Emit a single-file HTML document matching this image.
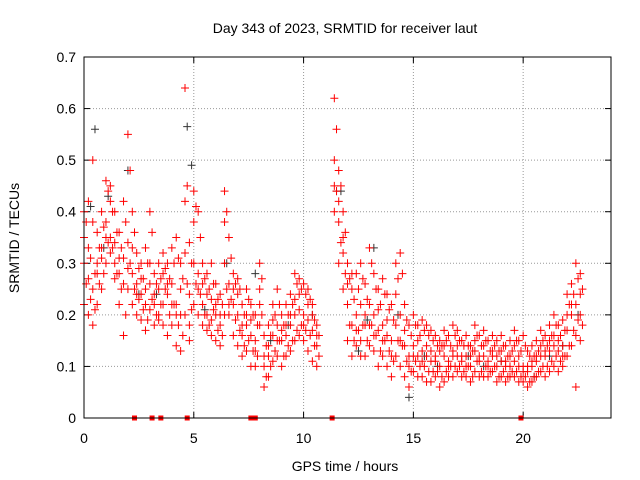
<!DOCTYPE html>
<html><head><meta charset="utf-8"><style>
html,body{margin:0;padding:0;background:#fff}
svg{display:block;font-family:"Liberation Sans",sans-serif}
</style></head><body>
<svg id="chart" width="640" height="480" viewBox="0 0 640 480" xmlns="http://www.w3.org/2000/svg">
<rect x="0" y="0" width="640" height="480" fill="#fff"/>
<text x="345" y="33" font-size="14" text-anchor="middle">Day 343 of 2023, SRMTID for receiver laut</text>
<text transform="translate(19,238) rotate(-90)" font-size="14" text-anchor="middle">SRMTID / TECUs</text>
<text x="345" y="471" font-size="14" text-anchor="middle">GPS time / hours</text>
<g id="grid"></g>
<g id="axes"></g>
<g id="marks"></g>
<rect x="84" y="57" width="527" height="361" fill="none" stroke="#000" stroke-width="1"/>
</svg>
<script>
const xTicks=[0,5,10,15,20];
const yTicks=[0,0.1,0.2,0.3,0.4,0.5,0.6,0.7];
const times=[0,0.2,0.4,0.6,0.8,1.0,1.2,1.4,1.6,1.8,2.0,2.2,2.4,2.6,2.8,3.0,3.2,3.4,3.6,3.8,4.0,4.2,4.4,4.6,4.8,5.0,5.2,5.4,5.6,5.8,6.0,6.2,6.4,6.6,6.8,7.0,7.2,7.4,7.6,7.8,8.0,8.2,8.4,8.6,8.8,9.0,9.2,9.4,9.6,9.8,10.0,10.2,10.4,10.6,11.4,11.6,11.8,12.0,12.2,12.4,12.6,12.8,13.0,13.2,13.4,13.6,13.8,14.0,14.2,14.4,14.6,14.8,15.0,15.2,15.4,15.6,15.8,16.0,16.2,16.4,16.6,16.8,17.0,17.2,17.4,17.6,17.8,18.0,18.2,18.4,18.6,18.8,19.0,19.2,19.4,19.6,19.8,20.0,20.2,20.4,20.6,20.8,21.0,21.2,21.4,21.6,21.8,22.0,22.2,22.4,22.6];
const seriesA=[.40,.42,.38,.36,.40,.46,.45,.40,.36,.42,.55,.40,.32,.30,.33,.40,.28,.30,.32,.30,.33,.35,.30,.64,.34,.44,.40,.30,.28,.30,.26,.24,.44,.35,.28,.27,.22,.25,.22,.20,.30,.16,.18,.22,.25,.20,.22,.24,.28,.27,.26,.25,.22,.18,.62,.48,.40,.30,.25,.28,.30,.26,.33,.28,.25,.27,.24,.22,.30,.32,.22,.18,.20,.18,.19,.18,.17,.16,.15,.17,.16,.18,.17,.15,.16,.14,.18,.16,.17,.15,.16,.15,.16,.14,.15,.17,.15,.16,.13,.14,.15,.17,.16,.18,.20,.18,.19,.24,.26,.30,.28];
const seriesB=[.30,.27,.25,.30,.33,.38,.35,.30,.28,.31,.34,.28,.26,.24,.22,.26,.22,.25,.28,.24,.26,.22,.20,.32,.24,.30,.28,.22,.20,.23,.20,.18,.30,.26,.22,.20,.16,.18,.16,.15,.22,.10,.12,.16,.18,.15,.16,.18,.20,.21,.20,.19,.17,.14,.50,.38,.32,.22,.18,.20,.22,.18,.22,.20,.17,.18,.16,.15,.18,.20,.14,.12,.14,.12,.13,.12,.11,.11,.10,.12,.11,.12,.12,.11,.12,.10,.13,.11,.12,.11,.12,.10,.11,.10,.10,.11,.10,.10,.09,.10,.11,.12,.12,.13,.14,.13,.14,.17,.20,.22,.20];
const seriesC=[.22,.20,.18,.22,.25,.30,.32,.27,.22,.16,.25,.22,.20,.19,.17,.21,.18,.19,.22,.16,.18,.14,.13,.20,.18,.22,.20,.18,.17,.19,.15,.14,.20,.20,.16,.14,.12,.13,.10,.10,.18,.06,.08,.11,.12,.10,.12,.13,.15,.16,.15,.13,.11,.10,.40,.30,.25,.15,.12,.14,.15,.12,.14,.13,.10,.12,.10,.08,.12,.10,.08,.06,.09,.08,.08,.07,.07,.08,.06,.07,.08,.08,.09,.08,.08,.07,.09,.08,.08,.08,.09,.07,.08,.07,.08,.08,.07,.07,.06,.07,.08,.09,.08,.09,.10,.09,.10,.12,.14,.16,.15];
const seriesD=[.35,.33,.50,.28,.31,.35,.42,.34,.31,.26,.29,.33,.24,.27,.25,.30,.24,.20,.18,.26,.22,.20,.25,.42,.15,.38,.25,.26,.24,.16,.22,.20,.38,.22,.25,.24,.18,.20,.19,.13,.25,.12,.14,.19,.15,.17,.18,.20,.23,.24,.18,.22,.20,.16,.45,.42,.35,.26,.28,.17,.12,.20,.18,.16,.21,.15,.19,.12,.24,.15,.17,.10,.12,.15,.11,.14,.13,.12,.13,.14,.10,.13,.14,.12,.10,.12,.15,.12,.14,.10,.13,.12,.13,.11,.12,.14,.12,.09,.10,.11,.12,.14,.13,.15,.16,.15,.12,.20,.22,.06,.24];
const seriesE=[.38,.31,.28,.33,.37,.44,.40,.36,.33,.38,.48,.36,.29,.27,.30,.36,.26,.27,.29,.27,.30,.31,.27,.45,.30,.41,.35,.27,.25,.26,.23,.22,.40,.31,.26,.25,.20,.23,.20,.18,.27,.14,.16,.20,.22,.18,.20,.22,.26,.25,.24,.23,.19,.16,.56,.45,.36,.27,.23,.25,.27,.23,.30,.25,.22,.24,.21,.19,.27,.28,.19,.16,.18,.16,.17,.16,.15,.14,.14,.15,.14,.16,.15,.14,.14,.13,.16,.14,.15,.13,.14,.13,.14,.12,.13,.15,.13,.14,.12,.12,.13,.15,.14,.16,.18,.16,.17,.22,.24,.27,.25];
const seriesF=[.26,.23,.21,.26,.28,.34,.33,.28,.25,.20,.30,.25,.23,.21,.19,.23,.20,.22,.25,.20,.22,.18,.16,.26,.21,.26,.24,.20,.18,.21,.17,.16,.25,.23,.19,.17,.14,.15,.13,.12,.20,.08,.10,.13,.15,.12,.14,.15,.17,.18,.17,.16,.14,.12,.44,.34,.28,.18,.15,.17,.18,.15,.18,.16,.13,.15,.13,.11,.15,.14,.11,.09,.11,.10,.10,.09,.09,.09,.08,.09,.10,.10,.10,.09,.10,.08,.11,.09,.10,.09,.10,.08,.09,.08,.09,.09,.08,.08,.07,.08,.09,.10,.10,.11,.12,.11,.12,.14,.17,.19,.18];
const darkTimes=[0.3,0.5,1.1,2.0,2.5,4.7,4.9,6.5,7.8,10.4,11.5,11.7,12.5,13.2,14.3,14.8,16.1,17.5,19.0,20.5,21.8,22.5,0.9,3.3,5.5,8.5,9.3,12.9,15.5,18.2,21.2];
const darkValues=[.41,.56,.43,.48,.24,.565,.49,.30,.28,.20,.44,.44,.13,.33,.20,.04,.10,.12,.11,.08,.14,.20,.33,.24,.21,.15,.18,.19,.12,.10,.12];
const zeroTimes=[2.3,3.1,3.5,4.7,7.6,7.7,7.8,11.3,19.9];

const X0=84,X1=611,Y0=418,Y1=57;
const xs=t=>X0+t/24*(X1-X0);
const ys=v=>Y0-v/0.7*(Y0-Y1);
const NS="http://www.w3.org/2000/svg";
const grid=document.getElementById('grid'),axes=document.getElementById('axes'),marks=document.getElementById('marks');
function el(tag,attrs,parent){const e=document.createElementNS(NS,tag);for(const k in attrs)e.setAttribute(k,attrs[k]);parent.appendChild(e);return e;}
xTicks.forEach(t=>{
  const x=xs(t);
  if(t>0){const g=el('line',{x1:x,x2:x,y1:Y0,y2:Y1,stroke:'#999','stroke-dasharray':'1,2'},grid);
  
  }
  el('line',{x1:x,x2:x,y1:Y0,y2:Y0-6,stroke:'#000'},axes);
  el('line',{x1:x,x2:x,y1:Y1,y2:Y1+6,stroke:'#000'},axes);
  const l=el('text',{x:x,y:443,'font-size':14,'text-anchor':'middle'},axes);l.textContent=t;
  
  
});
yTicks.forEach(v=>{
  const y=ys(v);
  if(v>0&&v<0.7){const g=el('line',{x1:X0,x2:X1,y1:y,y2:y,stroke:'#999','stroke-dasharray':'1,2'},grid);
  
  }
  el('line',{x1:X0,x2:X0+6,y1:y,y2:y,stroke:'#000'},axes);
  el('line',{x1:X1,x2:X1-6,y1:y,y2:y,stroke:'#000'},axes);
  const l=el('text',{x:76,y:y+5,'font-size':14,'text-anchor':'end'},axes);l.textContent=v===0?'0':v.toFixed(1);
  
  
});
function plus(t,v,color){
  const x=xs(t),y=ys(v);
  const p=el('path',{d:`M${x-4} ${y}H${x+4}M${x} ${y-4}V${y+4}`,stroke:color,'stroke-width':1,fill:'none'},marks);
  
  
}
darkTimes.forEach((t,i)=>plus(t,darkValues[i],'#333'));
[seriesA,seriesB,seriesC,seriesD].forEach(s=>times.forEach((t,i)=>plus(t,s[i],'#f00')));
[seriesE,seriesF].forEach(s=>times.forEach((t,i)=>plus(t+0.1,s[i],'#f00')));
zeroTimes.forEach(t=>{
  const r=el('rect',{x:xs(t)-2.5,y:Y0-2.5,width:5,height:5,fill:'#f00'},marks);
  
  
});
</script>
</body></html>
